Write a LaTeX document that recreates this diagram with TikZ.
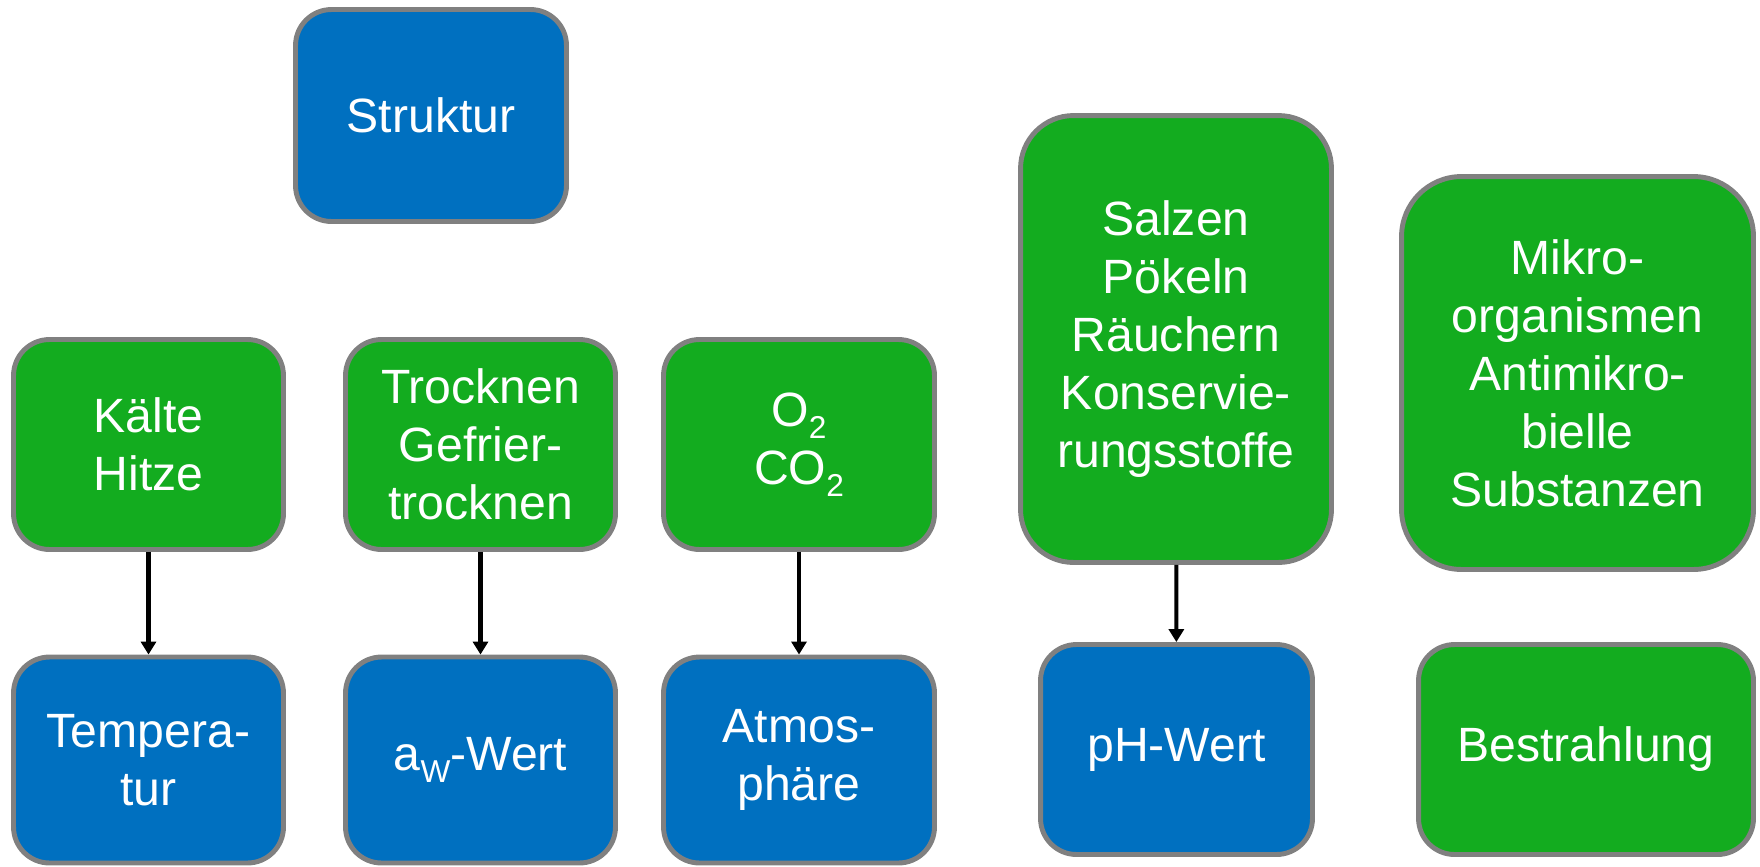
\documentclass[tikz,border=0pt]{standalone}
\usepackage{fontspec}
\setmainfont{Liberation Sans}
\usepackage{tikz}
\usetikzlibrary{arrows.meta}
\definecolor{boxblue}{RGB}{0,112,192}
\definecolor{boxgreen}{RGB}{19,172,31}
\definecolor{boxrim}{RGB}{128,128,128}
\newcommand{\lowidx}[1]{\raisebox{-0.24em}{\fontsize{18pt}{18pt}\selectfont #1}}
\tikzset{
  basebox/.style={
    draw=boxrim,
    line width=2.8pt,
    rounded corners=0.72cm,
    align=center,
    inner sep=0pt,
    text=white,
    font={\fontsize{27.4pt}{33pt}\selectfont}
  },
  bluebox/.style={
    basebox,
    fill=boxblue
  },
  greenbox/.style={
    basebox,
    fill=boxgreen
  },
  flowarrow/.style={
    -{Triangle[length=0.26cm,width=0.3cm]},
    line width=2.3pt,
    black
  }
}

\begin{document}
\begin{tikzpicture}[x=0.02cm, y=-0.02cm]
  \useasboundingbox (0,0) rectangle (1760,866);
  \node[bluebox, minimum width=5.42cm, minimum height=4.24cm] (struktur) at (431,115.5) {Struktur};

  \node[greenbox, minimum width=5.4cm, minimum height=4.2cm] (kaelte) at (148.5,444.5) {Kälte\\Hitze};
  \node[greenbox, minimum width=5.4cm, minimum height=4.2cm] (trocknen) at (480.5,444.5) {Trocknen\\Gefrier-\\trocknen};
  \node[greenbox, minimum width=5.42cm, minimum height=4.2cm] (gase) at (799,444.5) {O\lowidx{2}\\CO\lowidx{2}};
  \node[greenbox, minimum width=6.22cm, minimum height=8.94cm, rounded corners=1.06cm] (salzen) at (1176,339) {Salzen\\Pökeln\\Räuchern\\Konservie-\\rungsstoffe};
  \node[greenbox, minimum width=7.04cm, minimum height=7.86cm, rounded corners=1.2cm] (mikro) at (1577.5,373) {Mikro-\\organismen\\Antimikro-\\bielle\\Substanzen};

  \node[bluebox, minimum width=5.4cm, minimum height=4.12cm] (temperatur) at (148.5,760) {Tempera-\\tur};
  \node[bluebox, minimum width=5.4cm, minimum height=4.12cm] (awert) at (480.5,760) {a\lowidx{W}-Wert};
  \node[bluebox, minimum width=5.42cm, minimum height=4.12cm] (atmos) at (799,760) {Atmos-\\phäre};
  \node[bluebox, minimum width=5.44cm, minimum height=4.2cm] (phwert) at (1176.5,749.5) {pH-Wert};
  \node[greenbox, minimum width=6.7cm, minimum height=4.2cm] (bestrahlung) at (1586,749.5) {Bestrahlung};

  \draw[flowarrow] (kaelte) -- (temperatur);
  \draw[flowarrow] (trocknen) -- (awert);
  \draw[flowarrow] (gase) -- (atmos);
  \draw[flowarrow] (salzen) -- (phwert);
\end{tikzpicture}
\end{document}
